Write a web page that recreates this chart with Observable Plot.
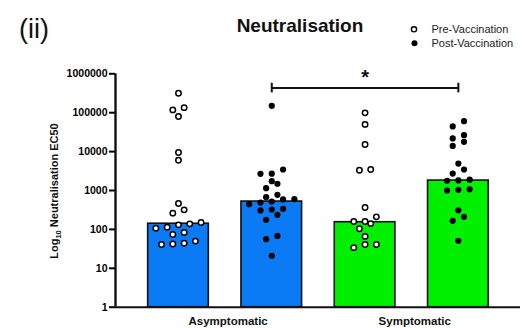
<!DOCTYPE html>
<html>
<head>
<meta charset="utf-8">
<script src="https://cdn.jsdelivr.net/npm/d3@7"></script>
<script src="https://cdn.jsdelivr.net/npm/@observablehq/plot@0.6"></script>
<style>
  html, body { margin: 0; padding: 0; background: #fff; }
  #wrap { position: relative; width: 521px; height: 328px; font-family: Arial, "Liberation Sans", Helvetica, sans-serif; }
  #wrap > svg { position: absolute; left: 0; top: 0; }
</style>
</head>
<body>
<div id="wrap"></div>
<script>
// ---- data ----
const groups = ["Asymptomatic", "Symptomatic"];
const phases = ["Pre-Vaccination", "Post-Vaccination"];
const tickValues = [1, 10, 100, 1000, 10000, 100000, 1000000];

const asymPre  = [316000, 135000, 118000, 80000, 9500, 6000, 465, 318, 262, 150, 139, 131, 114, 107, 83, 74, 50, 44, 42, 41];
const asymPost = [150000, 3470, 2700, 2680, 1740, 1490, 1150, 775, 672, 600, 590, 520, 490, 444, 340, 325, 307, 237, 177, 68, 56, 21];
const symPre   = [99000, 50000, 15200, 3470, 3320, 366, 210, 160, 160, 141, 104, 66, 41, 41, 34];
const symPost  = [60700, 44500, 26500, 21800, 17800, 14000, 4930, 3470, 2730, 1900, 1820, 1780, 1070, 1040, 1000, 310, 210, 166, 51];
const barValues = [140, 520, 153, 1800];   // bar heights (medians) in the order A-pre, A-post, S-pre, S-post
const significance = "*";
const bracketValue = 430000;

// ---- layout ----
const W = 521, H = 328;
const mTop = 73.3, mBottom = 21.3, mLeft = 115, mRight = 1;
const xDomain = [-0.675, 3.666];
const pxPerDecade = (H - mTop - mBottom) / 6;
const pxPerUnit = (W - mLeft - mRight) / (xDomain[1] - xDomain[0]);
const colStep = 11.3 / pxPerUnit;   // horizontal spacing of swarm columns
const rowGap = 6;                    // px: values closer than this share a row

const seriesList = [
  {values: asymPre,  group: groups[0], phase: phases[0]},
  {values: asymPost, group: groups[0], phase: phases[1]},
  {values: symPre,   group: groups[1], phase: phases[0]},
  {values: symPost,  group: groups[1], phase: phases[1]}
];

function swarm(values, i, phase) {
  const pts = values.map(v => ({v, phase, h: Math.log10(v) * pxPerDecade})).sort((a, b) => a.h - b.h);
  const rows = []; let cur = null;
  for (const p of pts) {
    if (!cur || p.h - cur[0].h > rowGap) { cur = [p]; rows.push(cur); } else cur.push(p);
  }
  rows.forEach(row => row.forEach((p, k) => { p.x = i + (k - (row.length - 1) / 2) * colStep; }));
  return pts;
}

const bars = seriesList.map((s, i) => ({i, v: barValues[i], group: s.group}));
const points = seriesList.flatMap((s, i) => swarm(s.values, i, s.phase));
const labels = groups.map((g, k) => ({g, x: 2 * k + 0.5}));

const blue = "#0a7af5", green = "#00f000";

const plot = Plot.plot({
  width: W, height: H,
  marginTop: mTop, marginBottom: mBottom, marginLeft: mLeft, marginRight: mRight,
  style: {fontFamily: 'Arial, "Liberation Sans", Helvetica, sans-serif', fontSize: "10.5px", fontWeight: "bold", overflow: "visible", background: "transparent"},
  x: {type: "linear", domain: xDomain, axis: null},
  y: {type: "log", domain: [1, 1000000], axis: null},
  color: {domain: groups, range: [blue, green]},
  marks: [
    Plot.rect(bars, {x1: d => d.i - 0.325, x2: d => d.i + 0.325, y1: 1, y2: "v", fill: "group", stroke: "#111", strokeWidth: 1.6}),
    Plot.dot(points.filter(d => d.phase === phases[0]), {x: "x", y: "v", r: 2.7, fill: "white", stroke: "black", strokeWidth: 1.5}),
    Plot.dot(points.filter(d => d.phase === phases[1]), {x: "x", y: "v", r: 3.1, fill: "black", stroke: "none"}),
    Plot.axisY({ticks: tickValues, tickFormat: d => String(d), tickSize: 6, tickPadding: 2, strokeWidth: 2, label: null, fontSize: 10.5, fontWeight: "bold"}),
    Plot.ruleX([xDomain[0]], {y1: 1, y2: 1000000, strokeWidth: 2.4, stroke: "#111"}),
    Plot.ruleY([1], {strokeWidth: 2, stroke: "#111"}),
    Plot.text(labels, {x: "x", y: 1, text: "g", dy: 14, dx: 3, fontSize: 11.5, fontWeight: "bold", fill: "#111"}),
    // significance bracket between the two post-vaccination bars
    Plot.ruleY([bracketValue], {x1: 1, x2: 3, strokeWidth: 2, stroke: "#111"}),
    Plot.ruleX([1, 3], {y1: bracketValue / 1.33, y2: bracketValue * 1.33, strokeWidth: 2, stroke: "#111"}),
    Plot.text([significance], {x: 2, y: bracketValue, text: d => d, dy: -4, lineAnchor: "bottom", fontSize: 20, fontWeight: "bold", fill: "#111"})
  ]
});

const wrap = document.getElementById("wrap");
wrap.appendChild(plot);

// ---- title, panel tag, legend and y label (overlay) ----
const ns = "http://www.w3.org/2000/svg";
const ov = document.createElementNS(ns, "svg");
ov.setAttribute("width", W); ov.setAttribute("height", H);
ov.setAttribute("font-family", 'Arial, "Liberation Sans", Helvetica, sans-serif');
ov.innerHTML = `
  <text x="19" y="37.5" font-size="27" fill="#111">(ii)</text>
  <text x="300" y="32" font-size="19" font-weight="bold" text-anchor="middle" fill="#111">Neutralisation</text>
  <circle cx="414" cy="29.3" r="2.6" fill="white" stroke="black" stroke-width="1.4"></circle>
  <text x="431.5" y="33.2" font-size="11" fill="#222">${phases[0]}</text>
  <circle cx="414.5" cy="43.3" r="3" fill="black"></circle>
  <text x="431.5" y="47.2" font-size="11" fill="#222">${phases[1]}</text>
  <text transform="translate(58,191) rotate(-90)" font-size="11" font-weight="bold" text-anchor="middle" fill="#111">Log<tspan font-size="7.5" dy="2.5">10</tspan><tspan dy="-2.5"> Neutralisation EC50</tspan></text>
`;
wrap.appendChild(ov);
</script>
</body>
</html>
